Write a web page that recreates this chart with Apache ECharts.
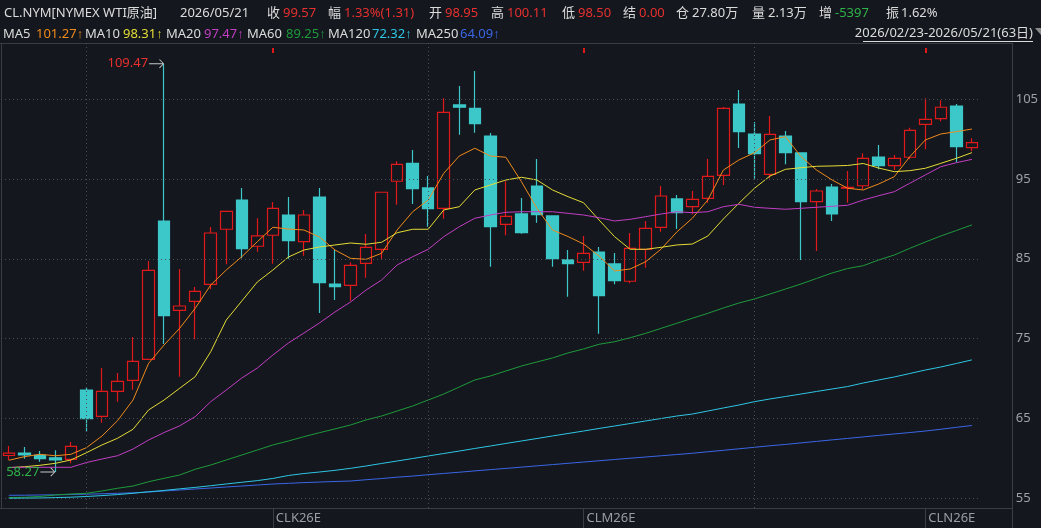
<!DOCTYPE html>
<html><head><meta charset="utf-8">
<script src="https://cdn.jsdelivr.net/npm/echarts@6/dist/echarts.min.js"></script>
<style>html,body{margin:0;padding:0;background:#14171d;}#c{width:1041px;height:528px;}</style>
</head><body><div id="c"></div>
<script>
// ---------- data ----------
const dates = [
'2026/02/23','2026/02/24','2026/02/25','2026/02/26','2026/02/27',
'2026/03/02','2026/03/03','2026/03/04','2026/03/05','2026/03/06',
'2026/03/09','2026/03/10','2026/03/11','2026/03/12','2026/03/13',
'2026/03/16','2026/03/17','2026/03/18','2026/03/19','2026/03/20',
'2026/03/23','2026/03/24','2026/03/25','2026/03/26','2026/03/27',
'2026/03/30','2026/03/31',
'2026/04/01','2026/04/02','2026/04/06','2026/04/07','2026/04/08',
'2026/04/09','2026/04/10','2026/04/13','2026/04/14','2026/04/15',
'2026/04/16','2026/04/17','2026/04/20','2026/04/21','2026/04/22',
'2026/04/23','2026/04/24','2026/04/27','2026/04/28','2026/04/29','2026/04/30',
'2026/05/01','2026/05/04','2026/05/05','2026/05/06','2026/05/07',
'2026/05/08','2026/05/11','2026/05/12','2026/05/13','2026/05/14',
'2026/05/15','2026/05/18','2026/05/19','2026/05/20','2026/05/21'];
const opens  = [60.33,60.64,60.35,60.05,59.85,68.54,65.24,68.38,69.76,72.39,89.74,78.54,79.67,81.80,88.70,92.37,86.57,87.95,90.49,87.14,92.75,81.84,81.67,84.43,86.19,94.72,96.97,93.88,91.33,104.29,103.87,100.40,89.32,90.62,94.13,90.37,84.85,84.56,85.85,84.35,82.18,86.19,88.95,92.50,91.53,92.58,95.47,104.41,100.65,95.59,100.40,98.27,92.16,94.00,93.85,94.16,97.76,96.67,97.73,101.86,102.57,104.16,98.95];
const closes = [60.64,60.39,59.93,59.77,61.48,64.95,68.38,69.63,72.14,83.55,77.86,79.08,80.92,88.23,90.95,86.27,87.86,91.33,87.27,90.49,82.00,81.50,84.18,86.44,93.34,96.85,93.79,91.28,103.37,104.00,101.94,89.02,90.33,88.27,90.53,85.01,84.38,85.69,80.37,82.25,86.31,88.82,92.87,90.78,92.46,95.34,103.87,100.94,98.18,100.61,98.30,92.16,93.50,90.62,93.97,97.60,96.67,97.60,101.11,102.49,104.00,99.06,99.57];
const lows   = [59.77,59.93,59.55,58.27,59.35,63.28,64.44,67.08,68.58,72.39,74.31,70.21,74.90,81.17,84.31,85.06,85.89,84.39,85.01,85.39,78.20,79.83,79.74,82.63,84.94,91.78,91.87,89.02,90.03,100.56,100.81,84.01,87.94,88.15,89.52,84.01,80.24,83.50,75.60,81.80,81.93,83.88,88.40,88.73,90.58,92.03,94.25,98.89,95.04,95.09,96.85,84.85,85.98,89.74,92.03,93.75,96.22,96.13,97.48,98.73,102.24,97.10,98.50];
const highs  = [61.52,61.39,60.89,61.00,62.02,68.92,71.30,70.67,75.19,84.72,109.47,83.72,81.46,88.98,90.95,93.88,90.08,92.12,92.75,91.12,93.88,86.10,84.56,88.11,93.34,97.22,98.64,95.38,105.13,106.67,108.55,100.77,94.72,92.62,97.51,90.37,86.10,87.86,86.48,85.72,88.23,89.74,94.13,93.00,93.50,97.51,104.03,106.17,102.15,102.91,101.02,98.27,93.75,94.38,96.00,98.23,99.27,98.01,101.44,105.13,104.87,104.41,100.11];
const ma5   = [59.73,60.18,60.48,60.30,60.48,61.31,62.77,64.69,67.29,71.89,74.19,76.28,78.79,81.71,83.59,85.26,87.14,88.95,88.73,88.61,87.73,86.10,85.06,84.93,85.69,88.61,90.90,92.37,95.72,97.89,98.86,97.89,97.73,94.67,91.33,88.61,87.79,86.85,85.35,83.47,83.72,84.63,86.23,88.36,90.08,92.37,96.13,97.39,98.30,99.90,100.31,97.80,96.13,94.88,93.84,93.63,94.38,95.29,97.80,99.90,100.65,100.94,101.27];
const ma10  = [58.80,58.92,59.10,59.35,59.77,60.68,61.65,62.49,63.62,66.04,67.29,68.76,70.21,73.35,77.32,79.70,82.09,83.59,85.22,86.10,86.48,86.73,86.98,86.82,87.07,88.27,88.70,88.70,91.12,91.53,93.63,94.25,94.88,95.22,94.88,93.63,92.79,92.03,89.86,87.77,86.19,86.19,86.44,86.73,86.85,87.86,89.99,91.96,93.84,95.38,96.22,96.42,96.60,96.64,96.70,96.95,96.38,95.92,96.05,96.35,96.97,97.60,98.31];
const ma20  = [58.85,58.85,58.85,58.85,58.85,59.45,59.89,60.30,61.14,62.27,63.21,64.05,65.20,67.08,68.54,70.05,71.30,72.93,74.44,75.69,76.95,78.33,79.58,81.08,82.34,84.22,85.26,86.19,87.77,89.02,90.08,90.49,90.83,90.90,90.90,90.90,90.70,90.49,90.15,89.74,89.95,90.28,90.62,90.90,90.78,90.90,91.53,91.83,91.46,91.33,91.21,91.33,91.46,91.58,91.71,92.37,92.91,93.41,94.47,95.51,96.55,97.05,97.47];
const ma60  = [55.06,55.09,55.19,55.38,55.50,55.59,55.88,56.22,56.50,57.04,57.47,57.88,58.60,59.14,59.77,60.39,61.02,61.65,62.15,62.69,63.19,63.66,64.16,64.79,65.28,65.91,66.54,67.29,68.04,68.92,69.80,70.30,70.93,71.55,72.06,72.56,73.19,73.69,74.28,74.60,75.10,75.65,76.28,76.91,77.54,78.16,78.83,79.45,79.96,80.58,81.21,81.84,82.53,83.22,83.78,84.13,84.85,85.47,86.31,87.10,87.86,88.55,89.25];
const ma120 = [54.96,54.98,55.00,55.05,55.10,55.19,55.30,55.43,55.59,55.78,55.95,56.15,56.33,56.54,56.76,56.97,57.18,57.45,57.82,58.07,58.26,58.47,58.72,59.01,59.33,59.64,59.95,60.27,60.58,60.89,61.21,61.52,61.84,62.15,62.46,62.78,63.09,63.40,63.72,64.03,64.34,64.66,64.97,65.28,65.53,65.91,66.29,66.66,67.08,67.42,67.73,68.04,68.36,68.67,68.98,69.42,69.80,70.18,70.61,71.05,71.43,71.87,72.32];
const ma250 = [55.34,55.35,55.38,55.40,55.44,55.48,55.53,55.59,55.65,55.75,55.88,56.00,56.13,56.25,56.38,56.50,56.63,56.75,56.84,56.93,57.00,57.07,57.13,57.29,57.44,57.61,57.75,57.92,58.08,58.23,58.40,58.56,58.71,58.87,59.03,59.19,59.35,59.51,59.67,59.83,59.99,60.14,60.30,60.45,60.61,60.80,60.98,61.17,61.36,61.55,61.72,61.91,62.10,62.29,62.47,62.66,62.85,63.03,63.21,63.40,63.62,63.86,64.09];
const yTicks = [55,65,75,85,95,105];
const rollIdx = [17,37,59];
const rollLabels = ['CLK26E','CLM26E','CLN26E'];
const symbolName = 'CL.NYM[NYMEX WTI原油]';
const hdrLabels = ['收','幅','开','高','低','结','仓','量','增','振'];
const hdrValues = ['99.57','1.33%(1.31)','98.95','100.11','98.50','0.00','27.80万','2.13万','-5397','1.62%'];
const maNames = ['MA5','MA10','MA20','MA60','MA120','MA250'];

// ---------- styles / layout ----------
const BG = '#14171d';
const RED = '#e0191b', CYAN = '#3cc8c8';
const maColors = ['#f08a1c','#e4dc36','#c23ec4','#1e9a3c','#2ec6e4','#3a66e6'];
const hdrValColors = ['#e8302f','#e8302f','#e8302f','#e8302f','#e8302f','#e8302f','#dcdcdc','#dcdcdc','#2fb34a','#dcdcdc'];
const hdrLabelX = [267,328,429,491,562,623,676,752,819,886];
const hdrValueX = [283,344,445,507,578,639,692,768,835,901];
const maNameX = [3,85,166,247,328,416];
const maValX = [36,123,204,286,372,460];
const FAMILY = '"Noto Sans","Noto Sans CJK SC",sans-serif';
const FONT = '13px ' + FAMILY;
const FRAME = '#3a3d43';

const maList = [ma5,ma10,ma20,ma60,ma120,ma250];
const monthStarts = dates.map((d,i)=> (i>0 && d.slice(5,7)!==dates[i-1].slice(5,7)) ? i : -1).filter(i=>i>=0);

const graphics = [];
function txt(x,y,text,fill){ graphics.push({type:'text', silent:true, x:x, y:y, style:{text:text, fill:fill, font:FONT, verticalAlign:'middle'}}); }
function ln(x1,y1,x2,y2,stroke){ graphics.push({type:'line', silent:true, shape:{x1:x1,y1:y1,x2:x2,y2:y2}, style:{stroke:stroke, lineWidth:1}}); }

txt(4,13,symbolName,'#dcdcdc');
txt(180,13,dates[dates.length-1],'#dcdcdc');
hdrLabels.forEach((l,i)=>{ txt(hdrLabelX[i],13,l,'#dcdcdc'); txt(hdrValueX[i],13,hdrValues[i],hdrValColors[i]); });
maNames.forEach((n,i)=>{
  const arr = maList[i];
  txt(maNameX[i],34,n,'#dcdcdc');
  graphics.push({type:'text', silent:true, x:maValX[i], y:34, style:{
    text:'{v|'+arr[arr.length-1].toFixed(2)+'}{a|↑}', verticalAlign:'middle',
    rich:{ v:{fill:maColors[i], fontSize:13, fontFamily:FAMILY},
           a:{fill:maColors[i], fontSize:13, fontFamily:'"Liberation Sans","DejaVu Sans",sans-serif'} }
  }});
});
const rangeText = dates[0]+'-'+dates[dates.length-1]+'('+dates.length+'日)';
graphics.push({type:'text', silent:true, x:1033, y:33, style:{text:rangeText, fill:'#dcdcdc', font:FONT, verticalAlign:'middle', align:'right'}});
ln(863,41.5,1033,41.5,'#dcdcdc');
graphics.push({type:'polygon', silent:true, shape:{points:[[1035,28],[1041,28],[1041,35]]}, style:{fill:'#8a8a8a'}});
ln(0,43.5,1012,43.5,FRAME);
ln(1012.5,43,1012.5,528,FRAME);
ln(0,508.5,1012,508.5,FRAME);
ln(1.5,43,1.5,508,FRAME);

const arrowPath = 'path://M0,4 L13.5,4 L10,0.7 L10.7,0 L15,4.5 L10.7,9 L10,8.3 L13.5,5 L0,5 Z';

const option = {
  backgroundColor: BG,
  animation: false,
  grid: {left:1, right:60, top:43, bottom:20},
  xAxis: [{
    type:'category', data:dates, boundaryGap:true, position:'bottom',
    axisLine:{show:false},
    axisTick:{show:true, alignWithLabel:true, length:20, interval:(i)=>rollIdx.indexOf(i)>=0, lineStyle:{color:FRAME}},
    axisLabel:{interval:(i)=>rollIdx.indexOf(i)>=0, formatter:(v,i)=>rollLabels[rollIdx.indexOf(i)]||'', align:'left', padding:[0,0,0,3], margin:4, color:'#9a9da2', fontSize:13, fontFamily:'"Noto Sans",sans-serif'},
    splitLine:{show:false}
  },{
    type:'category', data:dates, boundaryGap:true, position:'top', offset:-5,
    axisLine:{show:false}, axisLabel:{show:false}, splitLine:{show:false},
    axisTick:{show:true, inside:true, alignWithLabel:true, length:5, interval:(i)=>rollIdx.indexOf(i)>=0, lineStyle:{color:'#e01818', width:2}}
  }],
  yAxis: {
    type:'value', position:'right', offset:31, min:53.746, max:112.06, scale:true,
    axisLine:{show:false}, axisTick:{show:false}, splitLine:{show:false},
    axisLabel:{customValues:yTicks, color:'#9ea2a8', fontSize:13, margin:5, fontFamily:'"Noto Sans",sans-serif'}
  },
  graphic: graphics,
  series: [
    {
      type:'line', name:'MA250', data:ma250, symbol:'none', silent:true, z:1,
      lineStyle:{color:maColors[5], width:1},
      markLine:{silent:true, symbol:['none','none'], label:{show:false}, animation:false,
        lineStyle:{color:'#4a4e56', type:[1,3], width:1},
        emphasis:{disabled:true},
        data:[...yTicks.map(v=>({yAxis:v})), ...monthStarts.map(i=>({xAxis:dates[i]}))]}
    },
    {
      type:'candlestick', name:'K', z:2, silent:true, barWidth:12,
      data: dates.map((d,i)=>[opens[i],closes[i],lows[i],highs[i]]),
      itemStyle:{color:'transparent', color0:CYAN, borderColor:RED, borderColor0:CYAN, borderWidth:1.2},
      markPoint:{
        silent:true, symbol:arrowPath, symbolSize:[15,9], symbolOffset:['-50%',0],
        itemStyle:{color:'#c8c8c8'},
        label:{show:true, position:'left', distance:1, fontSize:13, fontFamily:'"Noto Sans",sans-serif', formatter:(p)=>Number(p.value).toFixed(2)},
        data:[
          {type:'max', valueDim:'highest', label:{color:'#e8302f'}},
          {type:'min', valueDim:'lowest', label:{color:'#2fb34a'}}
        ]
      }
    },
    ...[0,1,2,3,4].map(k=>({
      type:'line', name:maNames[k], data:maList[k], symbol:'none', silent:true, z:3,
      lineStyle:{color:maColors[k], width:1}
    }))
  ]
};
const chart = echarts.init(document.getElementById('c'));
chart.setOption(option);
</script>
</body></html>
